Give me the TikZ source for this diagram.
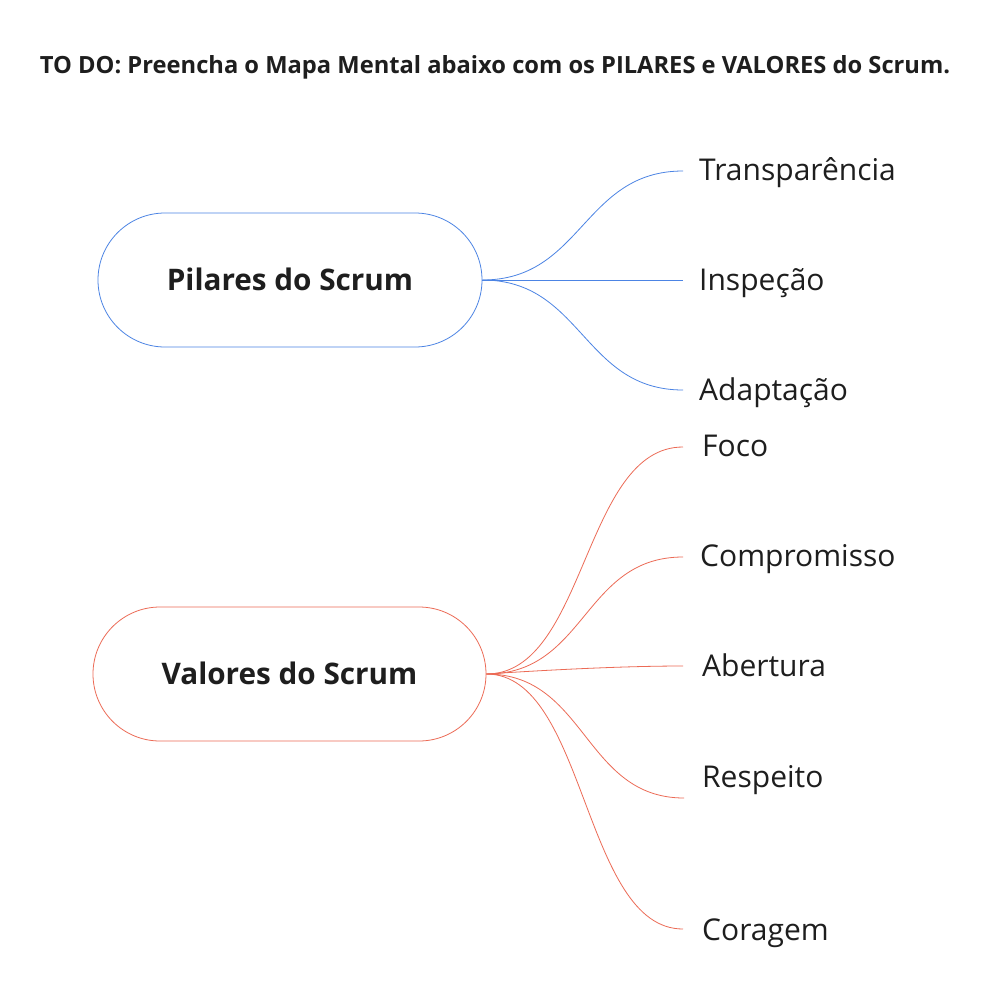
\documentclass[tikz,border=0pt]{standalone}
\usepackage{fontspec}
\setmainfont{Open Sans}
\definecolor{pblue}{HTML}{4C84E4}
\definecolor{vred}{HTML}{EC6B56}
\definecolor{ink}{HTML}{1E1E1E}
\begin{document}
\begin{tikzpicture}[x=1pt,y=-1pt,
  hub/.style={draw, line width=0.8pt, rounded corners=67pt, minimum width=#1, minimum height=134pt, inner sep=0pt, text=ink, text height=21.2pt, text depth=0pt, font=\fontsize{29.7}{34}\selectfont\bfseries},
  leaf/.style={anchor=west, inner sep=0pt, text=ink, text height=21.4pt, text depth=0pt, font=\fontsize{30}{34}\selectfont},
  branch/.style={line width=0.8pt}]
\useasboundingbox (0,0) rectangle (997,1002);
\fill[white] (0,0) rectangle (997,1002);
\node[text=ink, anchor=base, inner sep=0pt, font=\fontsize{23.7}{28}\selectfont\bfseries] (title) at (495,73) {TO DO: Preencha o Mapa Mental abaixo com os PILARES e VALORES do Scrum.};
% Pilares
\node[hub=384pt, draw=pblue] (pil) at (290,280) {Pilares do Scrum};
\coordinate (p1) at (683,171);
\coordinate (p2) at (683,280);
\coordinate (p3) at (683,390);
\node[leaf] (tr) at (699,170) {Transparência};
\node[leaf] (in) at (699,280) {Inspeção};
\node[leaf] (ad) at (699,390) {Adaptação};
\foreach \e in {p1,p2,p3}
  \draw[branch, pblue] (pil.east) .. controls +(100,0) and +(-100,0) .. (\e);
% Valores
\node[hub=393pt, draw=vred] (val) at (289.5,674) {Valores do Scrum};
\coordinate (v1) at (683,447);
\coordinate (v2) at (683,557);
\coordinate (v3) at (683,666);
\coordinate (v4) at (684,798);
\coordinate (v5) at (683,929);
\node[leaf] (fo) at (702,446) {Foco};
\node[leaf] (co) at (700,556) {Compromisso};
\node[leaf] (ab) at (702,666) {Abertura};
\node[leaf] (re) at (702,777) {Respeito};
\node[leaf] (cg) at (702,930) {Coragem};
\foreach \e in {v1,v2,v4,v5}
  \draw[branch, vred] (val.east) .. controls +(100,0) and +(-100,0) .. (\e);
\draw[branch, vred] (val.east) .. controls +(60,-4) and +(-60,0) .. (v3);
\end{tikzpicture}
\end{document}
